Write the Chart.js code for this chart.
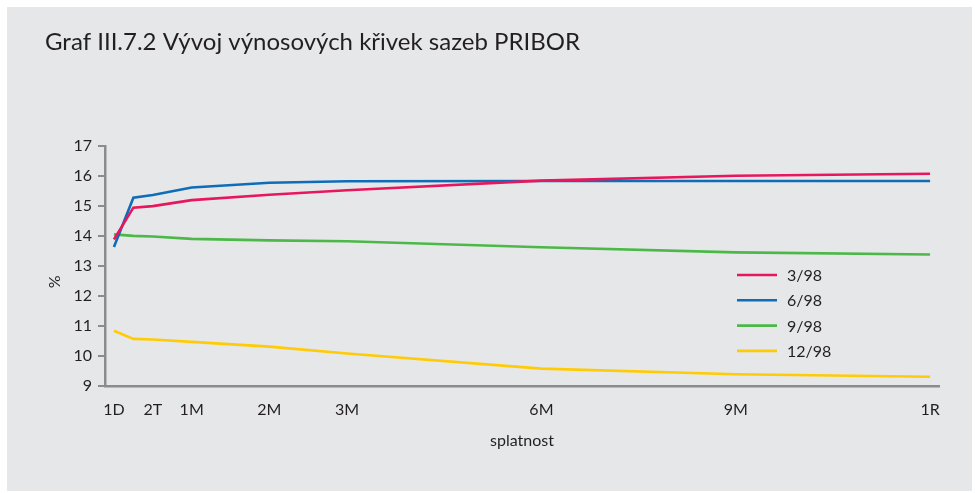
<!DOCTYPE html>
<html>
<head>
<meta charset="utf-8">
<script src="https://cdn.jsdelivr.net/npm/chart.js@4"></script>
<style>
html,body{margin:0;padding:0;background:#fff;}
#wrap{width:975px;height:493px;position:relative;}
</style>
</head>
<body>
<div id="wrap"><canvas id="c" width="975" height="493"></canvas></div>
<script>
// ---- data ----
const titleText = 'Graf III.7.2 Vývoj výnosových křivek sazeb PRIBOR';
const maturities = ['1D', '1T', '2T', '1M', '2M', '3M', '6M', '9M', '1R'];
const axisPos = [0, 0.5, 1, 2, 4, 6, 11, 16, 21];
const tickLabels = ['1D', '2T', '1M', '2M', '3M', '6M', '9M', '1R'];
const seriesNames = ['3/98', '6/98', '9/98', '12/98'];
const s398 = [13.88, 14.94, 14.99, 15.19, 15.37, 15.52, 15.84, 16.00, 16.07];
const s698 = [13.63, 15.27, 15.36, 15.61, 15.77, 15.82, 15.83, 15.83, 15.83];
const s998 = [14.05, 14.00, 13.98, 13.90, 13.85, 13.82, 13.62, 13.45, 13.38];
const s1298 = [10.84, 10.57, 10.55, 10.47, 10.31, 10.08, 9.58, 9.39, 9.31];
const yTicks = [9, 10, 11, 12, 13, 14, 15, 16, 17];

const colors = ['#e8175d', '#0f6db8', '#4cb848', '#ffcb05'];
const FONT = 'Lato, "Open Sans", sans-serif';
const TXT = '#231f20';
const AXIS = '#8c8c8c';

const allSeries = [s398, s698, s998, s1298];
const datasets = allSeries.map((s, i) => ({
  label: seriesNames[i],
  data: s.map((v, j) => ({x: axisPos[j], y: v})),
  borderColor: colors[i],
  backgroundColor: colors[i],
  borderWidth: 2.6,
  pointRadius: 0,
  tension: 0,
  fill: false
}));

const bgPlugin = {
  id: 'bg',
  beforeDraw(chart) {
    const ctx = chart.ctx;
    ctx.save();
    ctx.fillStyle = '#ffffff';
    ctx.fillRect(0, 0, chart.width, chart.height);
    ctx.fillStyle = '#e6e7e8';
    ctx.fillRect(7, 7, chart.width - 10, chart.height - 9);
    ctx.restore();
  }
};

const legendPlugin = {
  id: 'customLegend',
  afterDraw(chart) {
    const ctx = chart.ctx;
    ctx.save();
    ctx.font = '16px ' + FONT;
    ctx.textBaseline = 'middle';
    ctx.textAlign = 'left';
    chart.data.datasets.forEach((ds, i) => {
      const y = 275 + i * 25.3;
      ctx.strokeStyle = ds.borderColor;
      ctx.lineWidth = 2.6;
      ctx.beginPath();
      ctx.moveTo(737, y);
      ctx.lineTo(777, y);
      ctx.stroke();
      ctx.fillStyle = TXT;
      ctx.fillText(ds.label, 787, y + 1);
    });
    ctx.restore();
  }
};

new Chart(document.getElementById('c'), {
  type: 'line',
  data: {datasets},
  plugins: [bgPlugin, legendPlugin],
  options: {
    responsive: false,
    animation: false,
    devicePixelRatio: 1,
    layout: {padding: {left: 45, right: 36, top: 0, bottom: 43.8}},
    plugins: {
      legend: {display: false},
      tooltip: {enabled: false},
      title: {
        display: true,
        text: titleText,
        align: 'start',
        color: TXT,
        font: {family: FONT, size: 24, weight: 'normal'},
        padding: {top: 28, bottom: 89}
      }
    },
    scales: {
      x: {
        type: 'linear',
        min: -0.23,
        max: 21.23,
        afterBuildTicks(scale) {
          scale.ticks = tickLabels.map(l => ({value: axisPos[maturities.indexOf(l)]}));
        },
        ticks: {
          autoSkip: false,
          maxRotation: 0,
          padding: 14,
          color: TXT,
          font: {family: FONT, size: 16},
          callback(value) {
            const idx = axisPos.indexOf(value);
            return idx >= 0 ? maturities[idx] : '';
          }
        },
        grid: {display: false, drawTicks: false},
        border: {display: true, color: AXIS, width: 2.5},
        title: {
          display: true,
          text: 'splatnost',
          color: TXT,
          font: {family: FONT, size: 16, lineHeight: 1.0},
          padding: {top: 0, bottom: 0}
        }
      },
      y: {
        type: 'linear',
        min: 9,
        max: 17,
        afterBuildTicks(scale) {
          scale.ticks = yTicks.map(v => ({value: v}));
        },
        afterFit(scale) { scale.width = 60; },
        ticks: {
          padding: 6,
          color: TXT,
          font: {family: FONT, size: 16}
        },
        grid: {
          display: true,
          drawOnChartArea: false,
          drawTicks: true,
          tickLength: 7,
          color: AXIS,
          lineWidth: 2
        },
        border: {display: true, color: AXIS, width: 2.5},
        title: {
          display: true,
          text: '%\u2002\u2002\u2002\u2002',
          color: TXT,
          font: {family: FONT, size: 16},
          padding: 0
        }
      }
    }
  }
});
</script>
</body>
</html>
